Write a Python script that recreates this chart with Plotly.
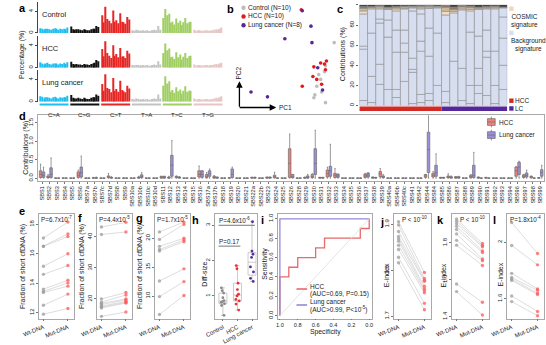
import plotly.graph_objects as go

W, H = 546, 345
FONT = "Arial, 'Liberation Sans', sans-serif"
GREY = "#a9a9a9"
TXT = "#222222"

# ---------------- DATA ----------------
# panel a: 96-channel SBS spectra (%), order C>A, C>G, C>T, T>A, T>C, T>G (16 each)
mut_types = ["C>A", "C>G", "C>T", "T>A", "T>C", "T>G"]
mut_colors = ["#1EBFF0", "#111111", "#E62725", "#C4C3C4", "#A1CF64", "#E6C6C2"]
spectrum_rows = ["Control", "HCC", "Lung cancer"]
ctrl_pct = [0.9, 0.8, 0.6, 0.8, 0.8, 0.7, 0.6, 0.8, 0.9, 0.8, 0.6, 0.8, 0.7, 0.8, 0.7, 1.0,
            1.2, 0.7, 0.6, 0.7, 0.7, 0.6, 0.5, 0.7, 0.6, 0.5, 0.5, 0.7, 0.8, 0.8, 1.3, 1.1,
            3.3, 2.0, 4.9, 2.6, 2.3, 1.8, 4.2, 2.1, 2.4, 1.8, 3.7, 2.1, 2.0, 1.7, 3.0, 2.5,
            0.5, 0.4, 0.6, 0.5, 0.4, 0.4, 0.5, 0.4, 0.5, 0.3, 0.4, 0.5, 0.6, 0.5, 1.3, 0.6,
            2.8, 4.5, 3.3, 3.6, 1.9, 2.1, 1.6, 2.7, 1.9, 2.3, 1.5, 2.0, 2.8, 1.8, 2.0, 2.1,
            0.6, 0.4, 0.5, 0.5, 0.4, 0.4, 0.5, 0.5, 0.4, 0.4, 0.5, 0.6, 0.7, 0.6, 0.8, 1.0]
hcc_pct = [1.0, 0.8, 0.6, 0.8, 0.9, 0.7, 0.6, 0.8, 0.8, 0.8, 0.6, 0.8, 0.7, 0.9, 0.7, 1.0,
           1.1, 0.7, 0.6, 0.7, 0.6, 0.6, 0.5, 0.7, 0.6, 0.6, 0.5, 0.7, 0.8, 0.9, 1.4, 1.2,
           3.4, 2.1, 4.8, 2.7, 2.2, 1.8, 4.1, 2.2, 2.5, 1.9, 3.6, 2.0, 2.1, 1.8, 3.1, 2.6,
           0.5, 0.4, 0.5, 0.5, 0.4, 0.4, 0.5, 0.4, 0.5, 0.3, 0.4, 0.5, 0.6, 0.5, 1.2, 0.6,
           2.7, 4.4, 3.2, 3.5, 1.9, 2.0, 1.6, 2.8, 1.9, 2.4, 1.5, 2.0, 2.7, 1.8, 2.1, 2.2,
           0.6, 0.4, 0.5, 0.5, 0.4, 0.4, 0.5, 0.5, 0.4, 0.5, 0.5, 0.6, 0.7, 0.6, 0.8, 0.9]
lc_pct = [1.0, 0.9, 0.6, 0.8, 0.8, 0.7, 0.6, 0.8, 0.9, 0.7, 0.6, 0.8, 0.7, 0.8, 0.8, 1.1,
          1.2, 0.7, 0.6, 0.6, 0.7, 0.6, 0.5, 0.7, 0.6, 0.5, 0.5, 0.7, 0.8, 0.8, 1.3, 1.1,
          3.2, 2.0, 5.0, 2.5, 2.3, 1.7, 4.3, 2.0, 2.3, 1.8, 3.8, 2.1, 1.9, 1.7, 2.9, 2.4,
          0.5, 0.4, 0.6, 0.5, 0.4, 0.4, 0.5, 0.4, 0.5, 0.3, 0.4, 0.5, 0.6, 0.5, 1.3, 0.6,
          2.9, 4.6, 3.3, 3.7, 1.8, 2.1, 1.6, 2.6, 1.9, 2.2, 1.5, 2.0, 2.8, 1.8, 2.0, 2.0,
          0.6, 0.4, 0.5, 0.5, 0.4, 0.4, 0.5, 0.5, 0.4, 0.4, 0.5, 0.6, 0.7, 0.6, 0.8, 1.0]

# panel b: PCA
pca_ctrl_pc1 = [9.8, 8.4, 8.0, 7.8, 7.7, 8.9, 8.9, 8.2, 8.8, 8.5]
pca_ctrl_pc2 = [6.7, 2.9, 2.2, 1.3, 1.0, 0.5, 4.3, 3.4, 3.7, 1.6]
pca_hcc_pc1 = [6.4, 8.4, 8.8, 7.7, 8.9, 7.6, 8.0, 8.5, 6.5, 9.0]
pca_hcc_pc2 = [10.1, 4.6, 4.5, 4.2, 3.9, 3.2, 2.9, 2.4, 2.2, 4.8]
pca_lc_pc1 = [6.5, 7.4, 4.7, 7.5, 8.1, 8.6, 1.2, 2.9]
pca_lc_pc2 = [10.0, 8.4, 7.1, 6.7, 4.1, 1.8, 1.6, 1.1]
pca_groups = ["Control (N=10)", "HCC (N=10)", "Lung cancer (N=8)"]

# panel c: per-sample contributions (%), 10 HCC + 8 LC
c_sample_group = ["HCC"] * 10 + ["LC"] * 8
c_bg_cuts = [[5, 56, 59], [3, 29, 72], [21, 41, 82, 86], [16, 68, 85], [8, 16, 53, 75],
             [24, 53, 62, 75], [2, 33, 36, 47, 94], [3, 11, 54, 64, 91], [5, 12, 49, 77], [20, 72],
             [3, 14], [44], [5, 37], [2, 20, 73], [12, 20, 37, 69], [10, 48, 54, 75],
             [2, 20, 54], [16, 40, 67, 88]]
# COSMIC parts from top: dark, brown, tan, beige
c_cosmic = [[1.5, 2, 2.5, 3], [1.5, 1, 1.5, 0], [0.8, 0.7, 1.5, 1], [2, 1, 1, 0.5], [1.5, 1, 1.5, 2],
            [1, 1, 1.5, 0.5], [1, 0.5, 1, 0.5], [0.8, 0.7, 1.5, 1], [0.5, 1, 1.5, 0.5], [1, 0.5, 1, 0.5],
            [0, 2.5, 4, 3.5], [2, 2.5, 2, 1.5], [0.5, 1.5, 2, 1], [1, 1.5, 2, 1.5], [2, 1, 1, 0.5],
            [1.5, 1, 1, 0.5], [1, 1, 1, 1], [2, 0.5, 0.5, 0]]

# panel d: box stats (lower, q1, median, q3, upper)
sig_names = ["SBS1", "SBS2", "SBS3", "SBS4", "SBS5", "SBS6", "SBS7a", "SBS7b", "SBS7c", "SBS7d",
             "SBS8", "SBS9", "SBS10a", "SBS10b", "SBS10c", "SBS10d", "SBS11", "SBS12", "SBS13",
             "SBS14", "SBS15", "SBS16", "SBS17a", "SBS17b", "SBS18", "SBS19", "SBS20", "SBS21",
             "SBS22a", "SBS22b", "SBS23", "SBS24", "SBS25", "SBS26", "SBS28", "SBS29", "SBS30",
             "SBS31", "SBS32", "SBS33", "SBS34", "SBS35", "SBS36", "SBS37", "SBS38", "SBS39",
             "SBS40a", "SBS40b", "SBS40c", "SBS41", "SBS42", "SBS44", "SBS84", "SBS85", "SBS86",
             "SBS87", "SBS88", "SBS89", "SBS90", "SBS91", "SBS92", "SBS93", "SBS94", "SBS96",
             "SBS97", "SBS98", "SBS99"]
Z = (0, 0, 0, 0, 0)
hcc_box = [(0, .02, .1, .2, .38), (0, .01, .03, .06, .1), Z, Z, Z, (0, .02, .08, .17, .22), Z,
           (0, 0, 0, .01, .02), Z, (0, .01, .03, .06, .13), Z, Z, Z, (0, 0, .01, .03, .05), Z, Z,
           (0, 0, .02, .05, .05), (0, 0, .01, .03, .05), (0, .01, .03, .05, .06), Z, Z,
           (0, .03, .1, .2, .33), (0, .01, .05, .1, .15), (0, 0, .02, .05, .07), Z,
           (0, 0, .005, .01, .01), Z, Z, (0, 0, .01, .02, .03), Z, (0, 0, .01, .03, .03),
           (0, .01, .04, .08, .16), Z, (0, .02, .4, .8, 1.2), Z, (0, 0, .01, .02, .03),
           (0, .01, .04, .1, .12), (0, 0, .01, .02, .02), (0, .03, .12, .22, .3),
           (0, .02, .08, .13, .26), Z, Z, Z, (0, .02, .06, .11, .13), (0, 0, .01, .03, .03),
           (0, .04, .12, .18, .26), Z, Z, Z, Z, Z, (0, .02, .06, .1, .1), (0, .03, .08, .13, .18),
           (0, 0, .01, .02, .02), (0, .01, .03, .06, .12), (0, 0, .02, .04, .04), Z,
           (0, .01, .04, .08, .1), (0, 0, .01, .03, .03), (0, 0, .01, .02, .02), Z, Z, Z,
           (0, .05, .2, .3, .32), (0, .02, .05, .09, .1), (0, .01, .03, .05, .06), (0, 0, .01, .01, .01)]
lc_box = [(0, .02, .08, .17, .3), (0, .02, .1, .28, .55), Z, Z, Z, (0, .03, .15, .3, .6), Z,
          (0, 0, 0, .01, .03), Z, (0, 0, .01, .02, .04), Z, Z, Z, (0, .01, .04, .09, .15), Z, Z,
          (0, 0, .02, .05, .05), (0, .05, .35, .62, 1.02), (0, 0, .02, .03, .04), Z, Z,
          (0, .02, .1, .2, .2), (0, .05, .12, .2, .25), (0, 0, .01, .03, .03), Z,
          (0, .02, .1, .25, .3), Z, Z, (0, 0, .01, .02, .03), Z, (0, 0, .01, .03, .03),
          Z, Z, (0, .01, .04, .1, .1), Z, (0, 0, .02, .06, .1),
          (0, .1, .4, .8, 1.3), (0, 0, .01, .02, .02), (0, .05, .2, .32, .92),
          (0, .02, .06, .11, .11), Z, Z, Z, (0, .03, .08, .14, .15), (0, 0, .01, .02, .02),
          (0, .01, .03, .06, .1), Z, Z, Z, Z, Z, (0, .15, .78, 1.25, 1.9), (0, .05, .15, .35, .66),
          (0, 0, .01, .02, .02), (0, 0, .02, .04, .06), (0, 0, .02, .04, .05), Z,
          (0, .02, .08, .35, .7), Z, Z, Z, Z, Z,
          (0, .1, .3, .43, .46), (0, .03, .08, .14, .22), Z, (0, .05, .15, .23, .35)]

# panels e, f, g, j, k, l: paired values
pair_labels = ["Wt-DNA", "Mut-DNA"]
e_wt = [17.07, 16.52, 16.5, 15.15, 14.6, 13.6, 13.45, 13.37, 12.5, 11.9]
e_mut = [18.15, 17.35, 17.17, 16.0, 15.2, 14.2, 14.02, 13.8, 13.26, 12.28]
f_wt = [43.2, 40.8, 20.0, 19.0, 18.6, 18.2, 17.7, 17.4, 17.1, 14.4]
f_mut = [44.7, 41.6, 22.1, 21.3, 20.0, 19.7, 19.2, 18.9, 18.7, 15.8]
g_wt = [21.1, 19.8, 18.6, 18.05, 17.8, 12.6, 9.9, 6.8]
g_mut = [22.8, 22.4, 20.0, 19.7, 19.4, 14.7, 12.5, 10.1]
j_wt = [1.905, 1.898, 1.884, 1.873, 1.868, 1.863, 1.854, 1.845, 1.828, 1.816]
j_mut = [1.795, 1.782, 1.778, 1.776, 1.765, 1.760, 1.756, 1.751, 1.728, 1.714]
k_wt = [1.93, 1.918, 1.904, 1.89, 1.873, 1.849, 1.814, 1.788, 1.577, 1.536]
k_mut = [1.797, 1.786, 1.779, 1.757, 1.748, 1.713, 1.704, 1.678, 1.478, 1.409]
l_wt = [2.14, 1.977, 1.78, 1.75, 1.74, 1.73, 1.62, 1.58]
l_mut = [1.92, 1.84, 1.67, 1.66, 1.64, 1.63, 1.51, 1.48]

# panel h
h_groups = ["Control", "HCC", "Lung cancer"]
h_ctrl = [1.23, 1.15, 1.08, 0.95, 0.87, 0.84, 0.82, 0.78, 0.73, 0.45]
h_hcc = [1.86, 1.77, 1.36, 1.18, 1.05, 1.0, 0.9, 0.86, 0.77, 0.6]
h_lc = [3.1, 2.27, 2.18, 2.09, 1.82, 1.68, 1.5, 1.41]

# panel i: ROC
roc_hcc_spec = [1.0, 1.0, 0.9, 0.9, 0.8, 0.8, 0.6, 0.6, 0.5, 0.5, 0.1, 0.1, 0.0, 0.0]
roc_hcc_sens = [0.0, 0.4, 0.4, 0.5, 0.5, 0.6, 0.6, 0.7, 0.7, 0.8, 0.8, 0.9, 0.9, 1.0]
roc_lc_spec = [1.0, 1.0, 0.0]
roc_lc_sens = [0.0, 1.0, 1.0]

# ---------------- BUILD ----------------
layout = dict(width=W, height=H, margin=dict(l=0, r=0, t=0, b=0), paper_bgcolor="white",
              plot_bgcolor="rgba(0,0,0,0)", showlegend=False,
              font=dict(family=FONT, size=6.5, color=TXT),
              barmode="overlay", boxmode="group", boxgap=0.22, boxgroupgap=0.12)
annotations, shapes, traces = [], [], []
axn = [0]


def px_x(x):
    return x / W


def px_y(y):
    return 1 - y / H


def add_axes(x0, x1, y0, y1, xkw, ykw):
    axn[0] += 1
    n = axn[0]
    s = "" if n == 1 else str(n)
    base = dict(showgrid=False, zeroline=False)
    layout["xaxis" + s] = dict(base, domain=[x0 / W, x1 / W], anchor="y" + s, **xkw)
    layout["yaxis" + s] = dict(base, domain=[1 - y1 / H, 1 - y0 / H], anchor="x" + s, **ykw)
    return "x" + s, "y" + s


def txt(x, y, s, size=6.5, xa="left", ya="middle", angle=0, color=TXT):
    annotations.append(dict(x=px_x(x), y=px_y(y), xref="paper", yref="paper", text=s,
                            showarrow=False, xanchor=xa, yanchor=ya, textangle=angle,
                            font=dict(size=size, family=FONT, color=color), borderpad=0))


def letter(x, y, s):
    txt(x, y, "<b>%s</b>" % s, size=11, xa="left", ya="top", color="#000")


tickf = dict(size=6, family=FONT, color=TXT)

# ---- panel a ----
bar_x = [g * 17 + i for g in range(6) for i in range(16)]
bar_col = [mut_colors[g] for g in range(6) for i in range(16)]
row_px = [(1, 33), (36, 69), (71, 104)]
for (y0, y1), vals, name in zip(row_px, [ctrl_pct, hcc_pct, lc_pct], spectrum_rows):
    xa, ya = add_axes(22, 215, y0, y1,
                      dict(range=[-1.2, 101.8], showticklabels=False, ticks="", showline=False),
                      dict(range=[0, 5.8], tickvals=[0, 4], tickangle=-90, ticks="outside", ticklen=2,
                           tickcolor="#444", showline=True, linecolor="#444", linewidth=0.8,
                           tickfont=tickf))
    traces.append(go.Bar(x=bar_x, y=vals, marker=dict(color=bar_col, line=dict(width=0)),
                         width=0.72, xaxis=xa, yaxis=ya))
    txt(25, y0 + 13, name, size=7.5)
    a_last = xa
for g in range(6):
    shapes.append(dict(type="rect", xref=a_last, yref="paper", x0=g * 17 - 0.5, x1=g * 17 + 15.5,
                       y0=px_y(108), y1=px_y(106), fillcolor=mut_colors[g], line=dict(width=0)))
    annotations.append(dict(x=g * 17 + 7.5, y=px_y(112.5), xref=a_last, yref="paper",
                            text=mut_types[g], showarrow=False, font=dict(size=6, family=FONT, color=TXT)))
txt(5, 55, "Percentage (%)", size=7, xa="center", angle=-90)
letter(1, 0, "a")

# ---- panel b ----
xa, ya = add_axes(230, 335, 5, 110,
                  dict(range=[0, 10.5], visible=False), dict(range=[0, 10.5], visible=False))
pca_cols = ["#BDBDBD", "#E31A1C", "#55279A"]
for pc1, pc2, col in zip([pca_ctrl_pc1, pca_hcc_pc1, pca_lc_pc1],
                         [pca_ctrl_pc2, pca_hcc_pc2, pca_lc_pc2], pca_cols):
    traces.append(go.Scatter(x=pc1, y=pc2, mode="markers", marker=dict(size=3.6, color=col),
                             xaxis=xa, yaxis=ya))
for i, (lab, col) in enumerate(zip(pca_groups, pca_cols)):
    yy = 7 + 9 * i
    shapes.append(dict(type="circle", xref="paper", yref="paper", x0=px_x(232), x1=px_x(236.5),
                       y0=px_y(yy + 2.25), y1=px_y(yy - 2.25), fillcolor=col, line=dict(width=0)))
    txt(238, yy, lab, size=6.5)
annotations.append(dict(x=px_x(268), y=px_y(110), xref="paper", yref="paper", ax=-38, ay=0,
                        text="", showarrow=True, arrowhead=2, arrowsize=1, arrowwidth=1.3, arrowcolor="#000"))
annotations.append(dict(x=px_x(230), y=px_y(83), xref="paper", yref="paper", ax=0, ay=27,
                        text="", showarrow=True, arrowhead=2, arrowsize=1, arrowwidth=1.3, arrowcolor="#000"))
txt(270, 110.5, "PC1", size=6.5)
txt(229.5, 74, "PC2", size=6.5, xa="center", angle=-90)
letter(216, 1, "b")

# ---- panel c ----
BG = "#D6DEF0"
COSMIC_COLS = ["#2f2a26", "#8a7a6a", "#cdb89a", "#efdcc4"]
cx, cbase, cy, ccol = [], [], [], []
for i in range(len(c_bg_cuts)):
    cos = c_cosmic[i]
    bg_top = 100 - sum(cos)
    bounds = [0] + c_bg_cuts[i] + [bg_top]
    for a, b in zip(bounds[:-1], bounds[1:]):
        cx.append(i); cbase.append(a); cy.append(b - a); ccol.append(BG)
    level = bg_top
    for size, col in zip(reversed(cos), reversed(COSMIC_COLS)):
        if size > 0:
            cx.append(i); cbase.append(level); cy.append(size); ccol.append(col)
            level += size
xa, ya = add_axes(354, 507, 4, 108,
                  dict(range=[-0.5, len(c_bg_cuts) - 0.5], visible=False),
                  dict(range=[0, 100], tickvals=[0, 20, 40, 60, 80, 100], tickangle=-90,
                       ticks="outside", ticklen=2, tickcolor="#666", tickfont=tickf, showline=False))
traces.append(go.Bar(x=cx, y=cy, base=cbase, width=1,
                     marker=dict(color=ccol, line=dict(color="#8f8f8f", width=0.6)),
                     xaxis=xa, yaxis=ya))
grp_cols = {"HCC": "#D42A26", "LC": "#55279A"}
for gname, lo, hi in [("HCC", -0.5, 9.5), ("LC", 9.5, 17.5)]:
    shapes.append(dict(type="rect", xref=xa, yref="paper", x0=lo, x1=hi, y0=px_y(113.5), y1=px_y(109),
                       fillcolor=grp_cols[gname], line=dict(width=0)))
txt(337, 55, "Contributions (%)", size=7, xa="center", angle=-90)
for (yy, col) in [(8, "#F3D6BA"), (33, BG)]:
    shapes.append(dict(type="rect", xref="paper", yref="paper", x0=px_x(509), x1=px_x(513.5),
                       y0=px_y(yy + 2.3), y1=px_y(yy - 2.3), fillcolor=col, line=dict(width=0)))
txt(510, 21, "COSMIC<br>signature", size=6.5, ya="middle")
txt(510, 45, "Background<br>signature", size=6.5, ya="middle")
for (yy, gname, lab) in [(103, "HCC", "HCC"), (111, "LC", "LC")]:
    shapes.append(dict(type="rect", xref="paper", yref="paper", x0=px_x(509), x1=px_x(513.5),
                       y0=px_y(yy + 2.3), y1=px_y(yy - 2.3), fillcolor=grp_cols[gname], line=dict(width=0)))
    txt(514, yy, lab, size=6.5)
letter(330, 1, "c")

# ---- panel d ----
xa, ya = add_axes(22, 545, 118, 186,
                  dict(type="category", tickangle=-90, tickfont=dict(size=5.6, family=FONT, color=TXT),
                       showline=True, mirror=True, linecolor=GREY, linewidth=0.8, ticks="outside",
                       ticklen=2, tickcolor="#777", range=[-0.5, len(sig_names) - 0.5]),
                  dict(range=[-0.08, 1.71], tickvals=[0, 0.5, 1.0, 1.5], ticktext=["0.0", "0.5", "1.0", "1.5"],
                       tickangle=-90, tickfont=tickf, showline=True, mirror=True, linecolor=GREY,
                       linewidth=0.8, ticks="outside", ticklen=2, tickcolor="#777"))
HCC_FILL, LC_FILL = "#EF807A", "#9C8ED8"
for name, stats, fill, og in [("HCC", hcc_box, HCC_FILL, "hcc"), ("Lung cancer", lc_box, LC_FILL, "lc")]:
    traces.append(go.Box(x=sig_names, lowerfence=[s[0] for s in stats], q1=[s[1] for s in stats],
                         median=[s[2] for s in stats], q3=[s[3] for s in stats],
                         upperfence=[s[4] for s in stats], name=name, fillcolor=fill,
                         line=dict(color="#6f6f6f", width=0.7), boxpoints=False, offsetgroup=og,
                         xaxis=xa, yaxis=ya))
for yy, fill, lab in [(125, HCC_FILL, "HCC"), (138.5, LC_FILL, "Lung cancer")]:
    shapes.append(dict(type="line", xref="paper", yref="paper", x0=px_x(490.5), x1=px_x(490.5),
                       y0=px_y(yy + 5.5), y1=px_y(yy - 5.5), line=dict(color="#6f6f6f", width=0.8)))
    shapes.append(dict(type="rect", xref="paper", yref="paper", x0=px_x(486.5), x1=px_x(494.5),
                       y0=px_y(yy + 3.5), y1=px_y(yy - 3.5), fillcolor=fill,
                       line=dict(color="#6f6f6f", width=0.7)))
    shapes.append(dict(type="line", xref="paper", yref="paper", x0=px_x(486.5), x1=px_x(494.5),
                       y0=px_y(yy), y1=px_y(yy), line=dict(color="#6f6f6f", width=0.7)))
    txt(497, yy, lab, size=6.5)
txt(9, 152, "Contributions (%)", size=7, xa="center", angle=-90)
letter(1, 112, "d")

# ---- paired panels ----
WT_COL, MUT_COL = "#9c9c9c", "#FF5A5A"


def paired(x0, x1, wt, mut, yrange, ticks, ptext, ptx, title, tx, ty, lab, lx, ly):
    xa, ya = add_axes(x0, x1, 220, 328,
                      dict(range=[-0.17, 1.25], tickvals=[0, 1], ticktext=pair_labels, tickangle=-22,
                           tickfont=tickf, showline=True, mirror=True, linecolor=GREY, linewidth=0.8,
                           ticks="outside", ticklen=2, tickcolor="#777"),
                      dict(range=yrange, tickvals=ticks, tickangle=-90, tickfont=tickf, showline=True,
                           mirror=True, linecolor=GREY, linewidth=0.8, ticks="outside", ticklen=2,
                           tickcolor="#777"))
    lxs, lys = [], []
    for a, b in zip(wt, mut):
        lxs += [0, 1, None]
        lys += [a, b, None]
    traces.append(go.Scatter(x=lxs, y=lys, mode="lines", line=dict(color="#cfcfcf", width=0.7),
                             xaxis=xa, yaxis=ya))
    traces.append(go.Scatter(x=[0] * len(wt), y=wt, mode="markers",
                             marker=dict(color=WT_COL, size=3.4, opacity=0.75), xaxis=xa, yaxis=ya))
    traces.append(go.Scatter(x=[1] * len(mut), y=mut, mode="markers",
                             marker=dict(color=MUT_COL, size=3.4, opacity=0.75), xaxis=xa, yaxis=ya))
    txt(ptx, 225, ptext, size=6.3)
    txt(tx, ty, title, size=7, xa="center", angle=-90)
    letter(lx, ly, lab)


paired(23, 59, e_wt, e_mut, [11.6, 18.7], [12, 14, 16, 18], "P=6.7x10<sup>-7</sup>", 24,
       "Fraction of short cfDNA (%)", 6, 274, "e", 1, 210)
paired(83, 119, f_wt, f_mut, [13.7, 47.4], [20, 30, 40], "P=4.4x10<sup>-5</sup>", 84,
       "Fraction of short cfDNA (%)", 67, 274, "f", 62, 217)
paired(143, 179, g_wt, g_mut, [6.1, 24.2], [10, 15, 20], "P=1.7x10<sup>-5</sup>", 144,
       "Fraction of short cfDNA (%)", 127, 274, "g", 122, 217)
paired(390, 428, j_wt, j_mut, [1.695, 1.922], [1.7, 1.8, 1.9], "P &lt; 10<sup>-10</sup>", 397,
       "E-index", 383, 283, "j", 374, 221)
paired(450, 488, k_wt, k_mut, [1.39, 1.957], [1.4, 1.6, 1.8], "P &lt; 10<sup>-10</sup>", 457,
       "E-index", 442, 283, "k", 433, 219)
paired(507, 545, l_wt, l_mut, [1.46, 2.2], [1.6, 2.0], "P=1.8x10<sup>-4</sup>", 509,
       "E-index", 500, 283, "l", 491, 219)

# ---- panel h ----
xa, ya = add_axes(205, 248, 220, 328,
                  dict(range=[-0.53, 2.33], tickvals=[0, 1, 2], ticktext=h_groups, tickangle=-28,
                       tickfont=tickf, showline=True, mirror=True, linecolor=GREY, linewidth=0.8,
                       ticks="outside", ticklen=2, tickcolor="#777"),
                  dict(range=[0.36, 3.32], tickvals=[1, 2, 3], tickangle=-90, tickfont=tickf,
                       showline=True, mirror=True, linecolor=GREY, linewidth=0.8, ticks="outside",
                       ticklen=2, tickcolor="#777"))
for i, (vals, col) in enumerate(zip([h_ctrl, h_hcc, h_lc], ["#8a8a8a", "#F03030", "#5A2CA0"])):
    traces.append(go.Box(x=[i] * len(vals), y=vals, boxpoints="all", jitter=0.6, pointpos=0,
                         fillcolor="rgba(255,255,255,0)", line=dict(color="#b5b5b5", width=0.7),
                         marker=dict(color=col, size=2.8), width=0.55, offsetgroup="h",
                         xaxis=xa, yaxis=ya))
shapes.append(dict(type="line", xref=xa, yref=ya, x0=-0.3, x1=2.2, y0=3.0, y1=3.0,
                   line=dict(color="#555", width=0.8)))
shapes.append(dict(type="line", xref=xa, yref=ya, x0=-0.3, x1=1.2, y0=2.41, y1=2.41,
                   line=dict(color="#555", width=0.8)))
txt(208, 226, "P=4.6x10<sup>-6</sup>", size=6.3)
txt(208, 248, "P=0.17", size=6.3)
txt(193, 282, "Diff-size", size=7, xa="center", angle=-90)
letter(180, 219, "h")

# ---- panel i ----
xa, ya = add_axes(270, 367, 220, 328,
                  dict(range=[1.02, -0.03], tickvals=[1.0, 0.8, 0.6, 0.4, 0.2, 0.0],
                       ticktext=["1.0", "0.8", "0.6", "0.4", "0.2", "0.0"],
                       tickfont=dict(size=5.6, family=FONT, color=TXT),
                       showline=True, mirror=True, linecolor=GREY, linewidth=0.8, ticks="outside",
                       ticklen=1, tickcolor="#777"),
                  dict(range=[-0.03, 1.05], tickvals=[0, 0.2, 0.4, 0.6, 0.8, 1.0],
                       ticktext=["0.0", "0.2", "0.4", "0.6", "0.8", "1.0"], tickangle=-90,
                       tickfont=tickf, showline=True, mirror=True, linecolor=GREY, linewidth=0.8,
                       ticks="outside", ticklen=2, tickcolor="#777"))
shapes.append(dict(type="line", xref=xa, yref=ya, x0=1, x1=0, y0=0, y1=1,
                   line=dict(color="#dddddd", width=0.8)))
traces.append(go.Scatter(x=roc_hcc_spec, y=roc_hcc_sens, mode="lines",
                         line=dict(color="#E8696A", width=1.3), xaxis=xa, yaxis=ya))
traces.append(go.Scatter(x=roc_lc_spec, y=roc_lc_sens, mode="lines",
                         line=dict(color="#9688D8", width=1.3), xaxis=xa, yaxis=ya))
for yy, col in [(297.5, "#E8696A"), (314, "#9688D8")]:
    shapes.append(dict(type="line", xref="paper", yref="paper", x0=px_x(289), x1=px_x(300),
                       y0=px_y(yy), y1=px_y(yy), line=dict(color=col, width=1.6)))
txt(302, 294.5, "HCC", size=6.5)
txt(302, 302.5, "(AUC=0.69, P=0.15)", size=6.5)
txt(302, 311, "Lung cancer", size=6.5)
txt(302, 319, "(AUC&gt;0.99, P&lt;10<sup>-5</sup>)", size=6.5)
txt(319, 342, "Specificity", size=6.8, xa="center")
txt(257, 272, "Sensitivity", size=7, xa="center", angle=-90)
letter(251, 219, "i")

fig = go.Figure(data=traces)
layout["annotations"] = annotations
layout["shapes"] = shapes
fig.update_layout(**layout)
fig.write_html("out.html")
